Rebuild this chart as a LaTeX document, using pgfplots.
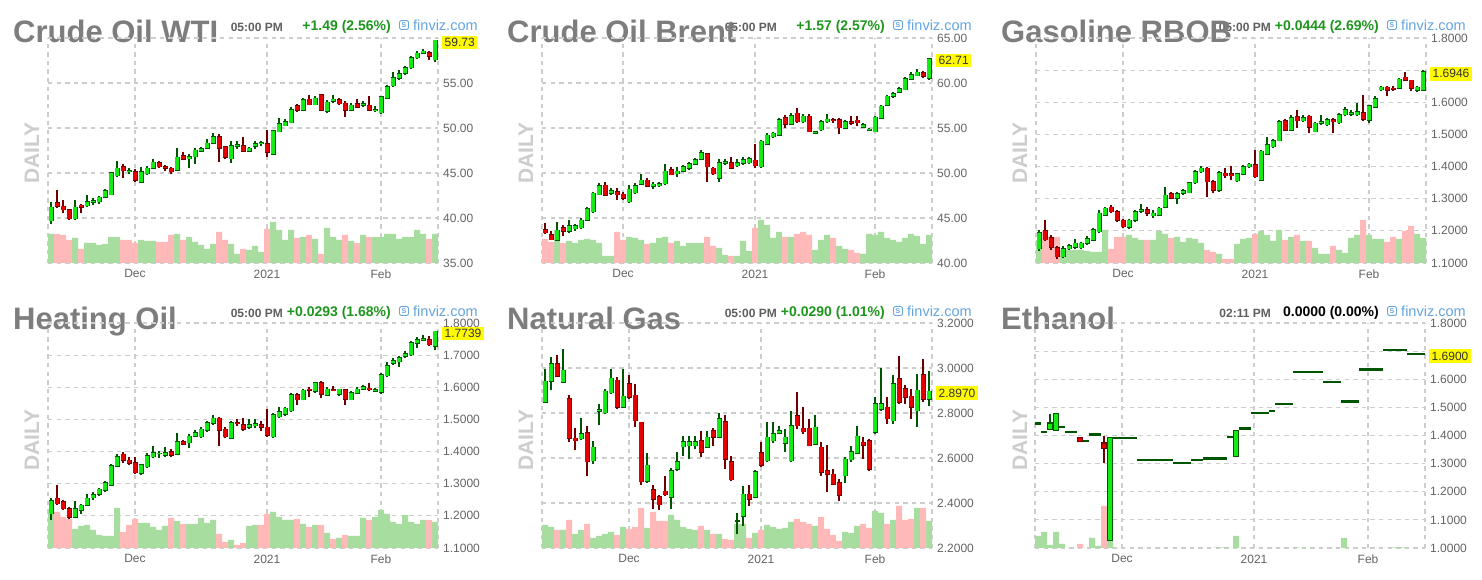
\documentclass[border=0pt]{standalone}
\usepackage{fontspec}
\setmainfont{Liberation Sans}
\usepackage{pgfplots}
\usepackage{pgfplotstable}
\pgfplotsset{compat=1.18}

\definecolor{upf}{RGB}{20,235,20}
\definecolor{upb}{RGB}{0,85,0}
\definecolor{dnf}{RGB}{230,0,0}
\definecolor{dnb}{RGB}{110,0,0}
\definecolor{volg}{RGB}{168,221,160}
\definecolor{volr}{RGB}{255,185,185}
\definecolor{gridc}{RGB}{205,205,205}
\definecolor{tickc}{RGB}{100,100,100}
\definecolor{titlec}{RGB}{125,125,125}
\definecolor{timec}{RGB}{95,95,95}
\definecolor{chg}{RGB}{30,150,30}
\definecolor{fvb}{RGB}{100,165,225}
\definecolor{dailyc}{RGB}{205,205,205}
\definecolor{pricey}{RGB}{255,250,0}

\tikzset{pricebox/.style={anchor=west, fill=pricey, inner xsep=2.5pt, inner ysep=2.5pt, font=\fontsize{12}{12}\selectfont, text=black!80, xshift=4pt, yshift=-2pt}}

\pgfplotsset{
 panel/.style={
   scale only axis, width=390pt, height=225pt, anchor=north west,
   xmin=-0.5, xmax=64.5,
   restrict y to domain=0.01:10000,
   axis line style={draw=none},
   major tick length=0pt,
   xmajorgrids, ymajorgrids,
   grid style={draw=gridc, line width=1.2pt, dash pattern=on 4.3pt off 4.3pt},
   extra x ticks={-0.5,64.5}, extra x tick labels={},
   extra x tick style={grid=major, major tick length=0pt},
   yticklabel pos=right, ytick pos=right,
   ticklabel style={font=\fontsize{12}{12}\selectfont, text=tickc},
   yticklabel style={anchor=west, inner sep=0pt, xshift=5pt},
   xticklabel style={anchor=north, inner sep=0pt, yshift=-6.5pt},
   xticklabels={Dec,2021,Feb},
 },
 eb/.style={only marks, mark=none, mark size=0pt, mark options={draw=none, fill=none}, error bars/.cd, y dir=plus, y explicit, error mark=none, error bar style={line cap=butt, #1}},
}

% #1 table, #2 ymin, #3 volume unit, #4 border ext, #5 border width, #6 fill width
\newcommand{\candles}[6]{%
  \addplot[ybar, bar width=1, bar shift=0pt, fill=volg, draw=none] table[x=i, y expr={\thisrow{g}==1 ? #2+\thisrow{v}*#3 : 0}] {#1};
  \addplot[ybar, bar width=1, bar shift=0pt, fill=volr, draw=none] table[x=i, y expr={\thisrow{g}==1 ? 0 : #2+\thisrow{v}*#3}] {#1};
  \addplot[eb={draw=upb, line width=1.1pt}] table[x=i, y expr={\thisrow{c}<\thisrow{o} ? 0 : \thisrow{l}}, y error expr={\thisrow{h}-\thisrow{l}}] {#1};
  \addplot[eb={draw=dnb, line width=1.1pt}] table[x=i, y expr={\thisrow{c}<\thisrow{o} ? \thisrow{l} : 0}, y error expr={\thisrow{h}-\thisrow{l}}] {#1};
  \addplot[eb={draw=upb, line width=#5}] table[x=i, y expr={\thisrow{c}<\thisrow{o} ? 0 : \thisrow{o}-#4}, y error expr={\thisrow{c}-\thisrow{o}+2*#4}] {#1};
  \addplot[eb={draw=dnb, line width=#5}] table[x=i, y expr={\thisrow{c}<\thisrow{o} ? \thisrow{c}-#4 : 0}, y error expr={\thisrow{o}-\thisrow{c}+2*#4}] {#1};
  \addplot[eb={draw=upf, line width=#6}] table[x=i, y expr={\thisrow{c}<\thisrow{o} ? 0 : \thisrow{o}}, y error expr={\thisrow{c}-\thisrow{o}}] {#1};
  \addplot[eb={draw=dnf, line width=#6}] table[x=i, y expr={\thisrow{c}<\thisrow{o} ? \thisrow{c} : 0}, y error expr={\thisrow{o}-\thisrow{c}}] {#1};
}

% #1 X0, #2 title baseline y, #3 small text y, #4 finviz y, #5 DAILY y, #6 title, #7 time, #8 change, #9 colour
\newcommand{\header}[9]{%
  \node[anchor=east, inner sep=0pt, font=\fontsize{12}{12}\selectfont\bfseries, text=timec] at (#1+283,#3) {#7};
  \node[anchor=east, inner sep=0pt, font=\fontsize{14}{14}\selectfont\bfseries, text=#9] at (#1+391,#3) {#8};
  \node[anchor=base west, inner sep=0pt, font=\fontsize{31}{31}\selectfont\bfseries, text=titlec] at (#1+13,#2) {#6};
  \draw[fvb, line width=0.9pt, rounded corners=2pt] (#1+399.5,#4-4.5) rectangle (#1+408.5,#4+4.5);
  \node[inner sep=0pt, font=\fontsize{7}{7}\selectfont\bfseries, text=fvb] at (#1+404,#4) {S};
  \node[anchor=west, inner sep=0pt, font=\fontsize{14.5}{14.5}\selectfont, text=fvb] at (#1+413,#4) {finviz.com};
  \node[rotate=90, inner sep=0pt, font=\fontsize{21}{21}\selectfont\bfseries, text=dailyc] at (#1+32,#5) {DAILY};
}

\pgfplotstableread{
i o h l c v g
0 39.7 41.8 39.3 41.2 29 1
1 41.7 43.1 41.1 41.3 29 0
2 41.3 42.0 40.5 40.9 28 0
3 40.9 41.0 39.8 39.9 23 0
4 39.9 42.0 39.8 41.2 25 1
5 41.4 41.6 40.5 41.2 14 0
6 41.35 42.5 41.2 41.8 20 1
7 41.75 42.2 41.4 41.9 20 1
8 41.8 42.4 41.6 42.3 18 1
9 42.3 43.2 42.2 43.0 19 1
10 42.6 45.1 42.5 45.0 26 1
11 44.7 46.3 44.6 45.5 26 1
12 45.7 46.0 44.4 45.25 23 0
13 45.15 45.5 44.9 45.25 23 0
14 45.15 45.4 44.0 44.2 20 0
15 44.0 45.7 43.9 45.15 23 1
16 44.9 45.8 44.8 45.5 22 1
17 45.5 46.6 45.4 46.2 22 1
18 46.1 46.3 45.6 45.7 21 0
19 45.7 45.9 45.2 45.5 21 0
20 45.5 45.7 44.85 45.15 28 0
21 45.3 47.75 45.2 46.75 29 1
22 46.9 47.3 46.4 46.5 23 0
23 46.6 47.1 45.6 46.8 26 1
24 46.8 47.75 46.0 47.5 21 1
25 47.4 47.9 47.3 47.7 18 1
26 47.75 48.75 47.7 48.3 14 1
27 48.3 49.4 48.2 49.05 19 1
28 49.05 49.3 46.2 47.75 31 0
29 47.9 48.0 46.6 46.75 23 0
30 46.6 48.5 46.1 48.05 19 1
31 48.0 48.5 47.7 48.1 9 1
32 48.05 49.0 47.3 47.4 14 0
33 47.45 47.9 47.3 47.75 13 1
34 48.0 48.5 47.7 48.25 17 1
35 48.25 48.5 48.0 48.35 11 1
36 48.25 49.8 46.8 47.3 34 0
37 47.1 49.8 47.1 49.7 41 1
38 49.6 51.1 49.5 50.45 33 1
39 50.25 50.95 50.2 50.7 23 1
40 50.6 52.3 50.5 52.0 33 1
41 52.45 52.7 51.8 52.0 25 0
42 52.0 53.3 51.9 53.1 26 1
43 53.2 53.7 52.5 52.6 28 0
44 52.6 53.5 52.5 53.3 24 1
45 53.7 53.8 51.9 52.0 9 0
46 51.85 53.1 51.7 52.85 35 1
47 52.95 53.7 52.8 53.2 26 1
48 53.15 53.3 52.6 52.7 23 1
49 52.75 53.0 51.2 51.95 28 0
50 52.0 52.8 51.85 52.5 22 1
51 52.7 53.2 52.2 52.3 20 0
52 52.5 53.0 52.3 52.7 28 1
53 52.5 53.5 51.9 52.0 26 0
54 51.95 52.4 51.75 52.0 26 1
55 51.7 53.55 51.6 53.45 26 1
56 53.3 54.8 53.2 54.6 29 1
57 54.7 56.2 54.6 55.55 29 1
58 55.55 56.4 55.35 56.0 24 1
59 56.1 56.9 55.9 56.7 26 1
60 56.7 58.0 56.6 57.8 26 1
61 57.8 58.55 57.7 58.3 33 1
62 58.3 58.8 58.2 58.5 29 1
63 58.35 58.55 57.5 57.95 24 0
64 57.6 59.8 57.3 59.73 29 1
}\wti

\pgfplotstableread{
i o h l c v g
0 43.7 44.4 43.2 43.35 24 0
1 43.1 43.5 42.5 42.6 21 0
2 42.55 44.6 42.5 43.65 33 1
3 43.9 44.2 43.0 43.55 20 0
4 43.55 44.8 43.3 44.1 22 1
5 43.8 44.3 43.6 44.1 20 1
6 43.9 44.95 43.8 44.75 23 1
7 44.75 46.25 44.7 46.0 24 1
8 45.7 47.85 45.6 47.75 23 1
9 47.6 48.9 47.5 48.55 20 1
10 48.65 49.0 47.4 47.55 7 1
11 47.75 48.3 47.6 48.05 7 1
12 47.9 48.3 47.0 47.6 31 0
13 47.65 47.9 47.0 47.2 23 0
14 46.8 48.7 46.7 48.2 26 1
15 47.8 48.85 47.7 48.55 25 1
16 48.75 49.9 48.7 49.2 23 1
17 49.2 49.4 48.4 48.55 19 0
18 48.5 48.95 48.2 48.75 20 1
19 48.6 49.0 48.45 48.8 25 1
20 48.8 50.95 48.7 50.2 26 1
21 50.35 50.7 49.75 49.8 20 0
22 49.9 50.7 49.6 50.2 22 1
23 50.2 50.9 50.1 50.7 17 1
24 50.5 51.2 50.3 51.0 20 1
25 51.0 51.65 50.9 51.45 20 1
26 51.5 52.5 51.4 52.25 20 1
27 52.1 52.25 49.0 50.7 26 0
28 50.5 50.7 49.8 49.9 17 0
29 49.4 51.6 49.0 51.1 15 1
30 51.1 51.5 50.9 51.25 8 1
31 51.15 51.8 50.4 50.5 7 0
32 50.8 51.6 50.7 51.1 7 1
33 51.1 51.8 50.9 51.45 22 1
34 51.15 51.8 51.05 51.6 12 1
35 51.4 53.2 50.5 50.8 35 0
36 50.7 53.7 50.6 53.5 43 1
37 53.2 54.45 53.1 54.2 38 1
38 54.05 54.6 53.9 54.4 25 1
39 54.2 56.1 54.1 55.9 31 1
40 56.1 56.45 55.0 55.45 26 0
41 55.45 56.65 55.35 56.35 26 1
42 56.65 57.2 55.6 55.7 29 0
43 55.7 56.5 55.5 56.3 31 0
44 56.3 56.5 54.5 54.6 28 0
45 54.45 54.6 54.35 54.55 13 1
46 54.8 55.9 54.7 55.7 23 1
47 55.7 56.5 55.6 55.95 28 1
48 55.9 56.15 55.6 55.85 25 0
49 55.9 56.15 54.35 55.05 17 1
50 55.0 55.9 54.9 55.7 14 1
51 55.7 56.3 55.3 55.55 13 0
52 55.85 56.3 55.2 55.6 10 0
53 55.1 55.55 55.0 55.35 9 1
54 54.75 55.0 54.7 54.85 29 1
55 54.6 56.35 54.5 56.2 28 1
56 56.1 57.6 56.0 57.4 31 1
57 57.5 58.7 57.4 58.5 25 1
58 58.5 58.95 58.3 58.8 23 1
59 58.95 59.5 58.9 59.35 21 1
60 59.25 60.65 59.2 60.45 25 1
61 60.45 61.2 60.3 60.9 29 1
62 60.8 61.5 60.75 61.2 27 1
63 61.1 61.3 60.6 60.75 19 1
64 60.55 62.8 60.3 62.71 28 1
}\brent

\pgfplotstableread{
i o h l c v g
0 1.145 1.204 1.138 1.194 23 1
1 1.200 1.233 1.169 1.173 32 0
2 1.179 1.186 1.141 1.150 26 0
3 1.148 1.152 1.111 1.119 26 0
4 1.119 1.152 1.117 1.145 13 1
5 1.145 1.160 1.140 1.153 13 1
6 1.150 1.176 1.145 1.161 13 1
7 1.147 1.166 1.142 1.161 13 1
8 1.161 1.183 1.156 1.176 12 1
9 1.171 1.210 1.169 1.204 11 1
10 1.197 1.264 1.194 1.254 11 1
11 1.249 1.275 1.245 1.270 33 1
12 1.273 1.280 1.254 1.259 14 0
13 1.259 1.264 1.228 1.233 26 0
14 1.233 1.238 1.208 1.213 26 0
15 1.211 1.238 1.205 1.233 28 1
16 1.233 1.264 1.228 1.259 25 1
17 1.261 1.285 1.254 1.265 23 1
18 1.265 1.275 1.246 1.254 23 0
19 1.247 1.264 1.239 1.254 23 1
20 1.249 1.275 1.245 1.270 32 1
21 1.273 1.337 1.270 1.311 29 1
22 1.316 1.322 1.298 1.301 25 0
23 1.301 1.322 1.284 1.315 26 1
24 1.317 1.329 1.312 1.325 21 1
25 1.319 1.353 1.317 1.350 25 1
26 1.350 1.389 1.346 1.384 24 1
27 1.384 1.402 1.381 1.395 20 1
28 1.395 1.400 1.306 1.353 13 0
29 1.353 1.358 1.319 1.327 11 0
30 1.327 1.387 1.322 1.381 9 1
31 1.379 1.395 1.364 1.371 4 0
32 1.377 1.402 1.357 1.371 4 0
33 1.356 1.381 1.353 1.377 19 1
34 1.377 1.405 1.374 1.400 24 1
35 1.400 1.412 1.395 1.407 25 1
36 1.405 1.450 1.364 1.369 29 0
37 1.358 1.452 1.356 1.447 32 1
38 1.439 1.493 1.436 1.467 28 1
39 1.462 1.485 1.457 1.481 22 1
40 1.481 1.545 1.478 1.540 33 1
41 1.543 1.547 1.512 1.514 23 0
42 1.514 1.561 1.512 1.551 26 1
43 1.554 1.577 1.520 1.543 28 0
44 1.543 1.561 1.540 1.551 22 1
45 1.556 1.561 1.504 1.522 22 0
46 1.509 1.540 1.506 1.535 15 1
47 1.535 1.561 1.530 1.540 9 1
48 1.530 1.551 1.525 1.545 9 1
49 1.545 1.551 1.504 1.540 17 0
50 1.537 1.566 1.533 1.561 13 1
51 1.561 1.585 1.556 1.577 10 1
52 1.563 1.577 1.558 1.567 25 1
53 1.561 1.598 1.556 1.571 28 1
54 1.568 1.624 1.543 1.547 43 0
55 1.545 1.592 1.537 1.589 28 1
56 1.585 1.618 1.582 1.610 24 1
57 1.639 1.652 1.634 1.647 24 1
58 1.647 1.652 1.618 1.637 21 0
59 1.644 1.652 1.636 1.640 26 0
60 1.644 1.675 1.640 1.672 24 1
61 1.678 1.693 1.665 1.668 32 0
62 1.668 1.670 1.634 1.644 37 0
63 1.637 1.651 1.632 1.647 29 1
64 1.637 1.700 1.634 1.6946 25 1
}\rbob

\pgfplotstableread{
i o h l c v g
0 1.207 1.256 1.188 1.246 39 1
1 1.254 1.295 1.233 1.238 36 0
2 1.243 1.250 1.217 1.222 31 0
3 1.222 1.227 1.191 1.196 29 0
4 1.196 1.245 1.194 1.222 19 1
5 1.217 1.238 1.207 1.233 22 1
6 1.233 1.269 1.230 1.254 23 1
7 1.257 1.274 1.248 1.266 18 1
8 1.267 1.288 1.263 1.282 13 1
9 1.280 1.309 1.275 1.303 12 1
10 1.295 1.361 1.292 1.355 12 1
11 1.355 1.392 1.352 1.384 40 1
12 1.392 1.399 1.365 1.373 16 0
13 1.373 1.384 1.358 1.363 23 0
14 1.365 1.384 1.330 1.334 29 0
15 1.332 1.361 1.327 1.358 25 1
16 1.353 1.394 1.350 1.386 25 1
17 1.384 1.417 1.379 1.397 21 1
18 1.393 1.403 1.379 1.395 18 1
19 1.389 1.415 1.384 1.396 22 1
20 1.399 1.407 1.384 1.389 30 0
21 1.392 1.459 1.389 1.431 27 1
22 1.431 1.437 1.420 1.423 24 0
23 1.427 1.456 1.410 1.448 24 1
24 1.448 1.467 1.444 1.459 24 1
25 1.446 1.477 1.441 1.469 30 1
26 1.467 1.496 1.461 1.490 25 1
27 1.488 1.513 1.483 1.503 28 1
28 1.503 1.508 1.417 1.467 14 0
29 1.469 1.475 1.441 1.446 6 0
30 1.441 1.496 1.438 1.490 8 1
31 1.490 1.501 1.478 1.488 3 0
32 1.483 1.505 1.465 1.469 5 0
33 1.475 1.501 1.469 1.483 22 1
34 1.480 1.501 1.472 1.486 23 1
35 1.483 1.494 1.463 1.475 23 0
36 1.475 1.532 1.446 1.451 34 0
37 1.446 1.519 1.441 1.514 36 1
38 1.509 1.540 1.504 1.524 31 1
39 1.517 1.540 1.511 1.535 28 1
40 1.527 1.582 1.524 1.576 28 1
41 1.576 1.582 1.545 1.561 29 0
42 1.561 1.594 1.559 1.590 24 1
43 1.594 1.602 1.571 1.590 21 0
44 1.587 1.615 1.582 1.613 23 1
45 1.613 1.618 1.566 1.579 23 0
46 1.576 1.602 1.572 1.594 15 1
47 1.593 1.603 1.587 1.591 9 0
48 1.579 1.596 1.573 1.594 10 1
49 1.592 1.594 1.545 1.563 13 0
50 1.561 1.587 1.559 1.582 12 1
51 1.582 1.600 1.580 1.594 12 1
52 1.594 1.607 1.592 1.602 30 1
53 1.597 1.613 1.587 1.592 28 0
54 1.588 1.597 1.585 1.592 31 1
55 1.584 1.644 1.580 1.639 38 1
56 1.636 1.680 1.632 1.667 34 1
57 1.675 1.690 1.670 1.683 26 1
58 1.680 1.696 1.662 1.691 24 1
59 1.696 1.712 1.691 1.704 33 1
60 1.701 1.743 1.698 1.738 26 1
61 1.738 1.756 1.722 1.748 24 1
62 1.746 1.763 1.743 1.750 28 1
63 1.748 1.758 1.727 1.732 28 0
64 1.727 1.776 1.715 1.7739 26 1
}\ho

\pgfplotstableread{
i o h l c v g
0 2.848 2.997 2.845 2.940 23 1
1 2.940 3.049 2.900 3.019 21 1
2 3.019 3.056 2.960 2.964 18 0
3 2.937 3.086 2.934 2.990 18 1
4 2.863 2.881 2.670 2.688 28 0
5 2.688 2.733 2.637 2.677 14 1
6 2.685 2.777 2.682 2.707 18 1
7 2.711 2.744 2.521 2.583 24 0
8 2.588 2.677 2.573 2.647 10 1
9 2.807 2.841 2.747 2.815 12 1
10 2.801 2.908 2.796 2.896 14 1
11 2.890 2.997 2.885 2.955 16 1
12 2.945 2.960 2.818 2.825 13 0
13 2.825 2.994 2.820 2.875 21 1
14 2.930 2.967 2.863 2.870 19 0
15 2.878 2.930 2.736 2.766 21 0
16 2.759 2.762 2.479 2.494 40 0
17 2.498 2.622 2.491 2.568 20 1
18 2.458 2.481 2.372 2.417 36 0
19 2.427 2.434 2.368 2.393 27 0
20 2.452 2.521 2.431 2.437 27 0
21 2.427 2.554 2.372 2.543 33 1
22 2.551 2.628 2.543 2.583 28 1
23 2.650 2.699 2.610 2.673 21 1
24 2.655 2.699 2.595 2.673 19 1
25 2.655 2.699 2.640 2.673 18 1
26 2.677 2.722 2.603 2.625 22 0
27 2.647 2.719 2.643 2.692 18 1
28 2.722 2.732 2.655 2.692 14 0
29 2.692 2.800 2.688 2.774 14 1
30 2.762 2.789 2.551 2.595 9 0
31 2.583 2.610 2.499 2.503 8 0
32 2.320 2.357 2.260 2.320 24 1
33 2.342 2.476 2.298 2.439 24 1
34 2.439 2.479 2.387 2.417 10 0
35 2.427 2.548 2.421 2.539 15 1
36 2.622 2.670 2.562 2.568 18 0
37 2.588 2.759 2.580 2.692 23 1
38 2.677 2.759 2.666 2.707 21 1
39 2.711 2.744 2.707 2.722 19 1
40 2.667 2.729 2.625 2.692 20 1
41 2.588 2.810 2.580 2.744 26 1
42 2.788 2.893 2.729 2.744 29 0
43 2.732 2.826 2.707 2.717 26 0
44 2.732 2.774 2.652 2.655 24 0
45 2.662 2.792 2.658 2.737 22 1
46 2.647 2.670 2.521 2.536 31 0
47 2.543 2.658 2.449 2.528 19 0
48 2.528 2.551 2.479 2.484 13 0
49 2.491 2.506 2.410 2.435 7 0
50 2.521 2.603 2.491 2.595 16 1
51 2.592 2.655 2.583 2.628 15 1
52 2.622 2.741 2.618 2.696 22 1
53 2.670 2.692 2.595 2.658 24 0
54 2.677 2.684 2.543 2.551 20 0
55 2.714 2.871 2.707 2.841 37 1
56 2.818 3.000 2.811 2.841 35 1
57 2.826 2.870 2.751 2.774 24 0
58 2.766 2.967 2.751 2.930 28 1
59 2.952 3.052 2.840 2.848 42 0
60 2.908 2.923 2.841 2.871 28 0
61 2.875 2.908 2.774 2.826 29 0
62 2.811 2.975 2.737 2.900 40 1
63 2.970 3.039 2.848 2.860 40 0
64 2.860 2.985 2.830 2.897 27 1
}\ng

\pgfplotstableread{
i o h l c v g
0 1.442 1.446 1.438 1.442 12 1
1 1.413 1.413 1.413 1.413 16 1
2 1.424 1.478 1.421 1.442 3 1
3 1.421 1.478 1.418 1.475 16 1
4 1.431 1.431 1.431 1.431 4 1
5 1.413 1.413 1.413 1.413 0 1
6 1.413 1.413 1.413 1.413 0 1
7 1.392 1.394 1.380 1.380 4 0
8 1.380 1.380 1.380 1.380 0 1
9 1.404 1.404 1.404 1.404 10 1
10 1.404 1.404 1.404 1.404 2 1
11 1.371 1.398 1.302 1.356 42 0
12 1.030 1.394 1.028 1.392 8 1
13 1.392 1.392 1.392 1.392 0 1
14 1.392 1.392 1.392 1.392 0 1
15 1.392 1.392 1.392 1.392 0 1
16 1.392 1.392 1.392 1.392 0 1
17 1.312 1.312 1.312 1.312 0 1
18 1.312 1.312 1.312 1.312 0 1
19 1.312 1.312 1.312 1.312 0 1
20 1.312 1.312 1.312 1.312 0 1
21 1.312 1.312 1.312 1.312 0 1
22 1.312 1.312 1.312 1.312 0 1
23 1.302 1.302 1.302 1.302 0 1
24 1.302 1.302 1.302 1.302 0 1
25 1.302 1.302 1.302 1.302 0 1
26 1.312 1.312 1.312 1.312 0 1
27 1.312 1.312 1.312 1.312 0 1
28 1.318 1.318 1.318 1.318 0 1
29 1.318 1.318 1.318 1.318 0 1
30 1.318 1.318 1.318 1.318 0.7 1
31 1.318 1.318 1.318 1.318 0.7 1
32 1.394 1.394 1.394 1.394 0 1
33 1.328 1.416 1.326 1.416 12 1
34 1.425 1.425 1.425 1.425 0 1
35 1.425 1.425 1.425 1.425 0 1
36 1.479 1.479 1.479 1.479 0 1
37 1.479 1.479 1.479 1.479 0 1
38 1.479 1.479 1.479 1.479 0 1
39 1.487 1.487 1.487 1.487 0 1
40 1.511 1.511 1.511 1.511 0 1
41 1.511 1.511 1.511 1.511 0 1
42 1.511 1.511 1.511 1.511 0 1
43 1.625 1.625 1.625 1.625 0.7 1
44 1.625 1.625 1.625 1.625 0 1
45 1.625 1.625 1.625 1.625 0 1
46 1.625 1.625 1.625 1.625 0 1
47 1.625 1.625 1.625 1.625 0 1
48 1.591 1.591 1.591 1.591 0 1
49 1.591 1.591 1.591 1.591 0 1
50 1.591 1.591 1.591 1.591 0 1
51 1.521 1.521 1.521 1.521 10 1
52 1.521 1.521 1.521 1.521 0 1
53 1.521 1.521 1.521 1.521 0 1
54 1.634 1.634 1.634 1.634 0 1
55 1.634 1.634 1.634 1.634 0 1
56 1.634 1.634 1.634 1.634 0 1
57 1.634 1.634 1.634 1.634 0 1
58 1.704 1.704 1.704 1.704 0 1
59 1.704 1.704 1.704 1.704 0.7 1
60 1.704 1.704 1.704 1.704 0.7 1
61 1.704 1.704 1.704 1.704 0.7 1
62 1.690 1.690 1.690 1.690 0 1
63 1.690 1.690 1.690 1.690 0 1
64 1.690 1.690 1.690 1.690 0 1
}\eth

\begin{document}
\begin{tikzpicture}[x=1pt,y=1pt]
\useasboundingbox (0pt,0pt) rectangle (1482pt,580pt);
\fill[white] (0pt,0pt) rectangle (1482pt,580pt);

\header{0}{537}{553}{555}{427}{Crude Oil WTI}{05:00 PM}{+1.49 (2.56\%)}{chg}
\header{494}{537}{553}{555}{427}{Crude Oil Brent}{05:00 PM}{+1.57 (2.57\%)}{chg}
\header{988}{537}{553}{555}{427}{Gasoline RBOB}{05:00 PM}{+0.0444 (2.69\%)}{chg}
\header{0}{250}{267}{269}{140}{Heating Oil}{05:00 PM}{+0.0293 (1.68\%)}{chg}
\header{494}{250}{267}{269}{140}{Natural Gas}{05:00 PM}{+0.0290 (1.01\%)}{chg}
\header{988}{250}{267}{269}{140}{Ethanol}{02:11 PM}{0.0000 (0.00\%)}{black}

\begin{axis}[panel, at={(48pt,542pt)}, ymin=35, ymax=60,
  ytick={35,40,45,50,55,60}, yticklabels={35.00,40.00,45.00,50.00,55.00,{}},
  xtick={14,36,55}]
\candles{\wti}{35}{0.11111}{0.067}{5pt}{3.4pt}
\coordinate (p1) at (axis cs:64.5,59.73);
\end{axis}
\node[pricebox] at (p1) {59.73};

\begin{axis}[panel, at={(542pt,542pt)}, ymin=40, ymax=65,
  ytick={40,45,50,55,60,65}, yticklabels={40.00,45.00,50.00,55.00,60.00,65.00},
  xtick={13,35,55}]
\candles{\brent}{40}{0.11111}{0.067}{5pt}{3.4pt}
\coordinate (p2) at (axis cs:64.5,62.71);
\end{axis}
\node[pricebox] at (p2) {62.71};

\begin{axis}[panel, at={(1036pt,542pt)}, ymin=1.1, ymax=1.8,
  ytick={1.1,1.2,1.3,1.4,1.5,1.6,1.7,1.8},
  yticklabels={1.1000,1.2000,1.3000,1.4000,1.5000,1.6000,{},1.8000},
  xtick={14,36,55}]
\candles{\rbob}{1.1}{0.0031111}{0.0019}{5pt}{3.4pt}
\coordinate (p3) at (axis cs:64.5,1.6946);
\end{axis}
\node[pricebox] at (p3) {1.6946};

\begin{axis}[panel, at={(48pt,257pt)}, ymin=1.1, ymax=1.8,
  ytick={1.1,1.2,1.3,1.4,1.5,1.6,1.7,1.8},
  yticklabels={1.1000,1.2000,1.3000,1.4000,1.5000,1.6000,1.7000,1.8000},
  xtick={14,36,55}]
\candles{\ho}{1.1}{0.0031111}{0.0019}{5pt}{3.4pt}
\coordinate (p4) at (axis cs:64.5,1.7739);
\end{axis}
\node[pricebox] at (p4) {1.7739};

\begin{axis}[panel, at={(542pt,257pt)}, ymin=2.2, ymax=3.2,
  ytick={2.2,2.4,2.6,2.8,3.0,3.2},
  yticklabels={2.2000,2.4000,2.6000,2.8000,3.0000,3.2000},
  xtick={14,36,55}]
\candles{\ng}{2.2}{0.0044444}{0.0027}{5pt}{3.4pt}
\coordinate (p5) at (axis cs:64.5,2.897);
\end{axis}
\node[pricebox] at (p5) {2.8970};

\begin{axis}[panel, at={(1035pt,257pt)}, ymin=1.0, ymax=1.8,
  ytick={1.0,1.1,1.2,1.3,1.4,1.5,1.6,1.7,1.8},
  yticklabels={1.0000,1.1000,1.2000,1.3000,1.4000,1.5000,1.6000,{},1.8000},
  xtick={14,36,55}]
\candles{\eth}{1.0}{0.0035556}{0.0043}{6.1pt}{4pt}
\coordinate (p6) at (axis cs:64.5,1.69);
\end{axis}
\node[pricebox] at (p6) {1.6900};
\end{tikzpicture}
\end{document}
